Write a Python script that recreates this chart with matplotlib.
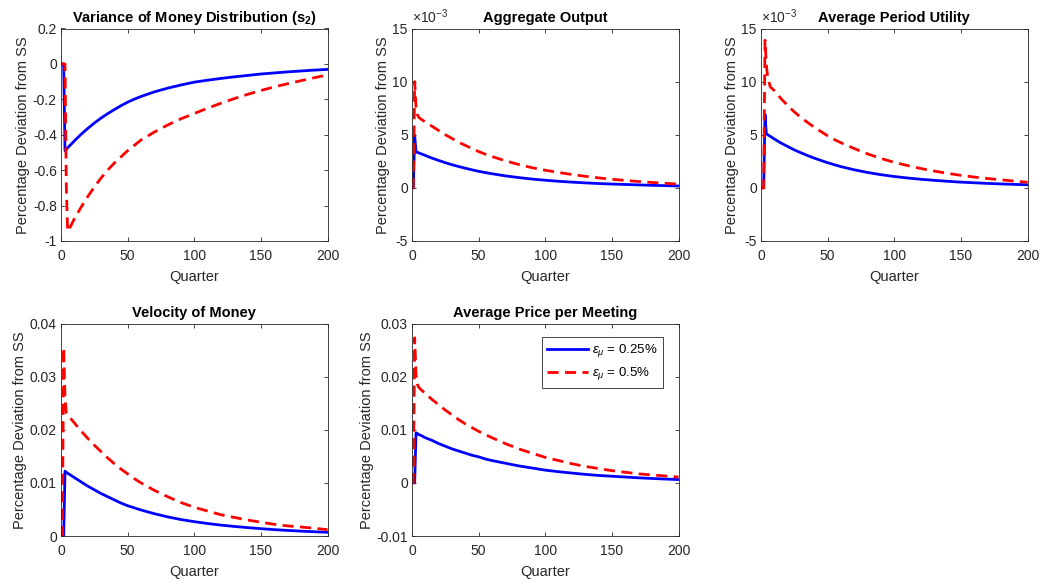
import matplotlib
matplotlib.use("Agg")
import matplotlib.pyplot as plt
from matplotlib.ticker import FuncFormatter

plt.rcParams['font.family'] = ['Liberation Sans', 'DejaVu Sans']
plt.rcParams['axes.unicode_minus'] = False
plt.rcParams['mathtext.fontset'] = 'custom'
plt.rcParams['mathtext.rm'] = 'Liberation Sans'
plt.rcParams['mathtext.it'] = 'Liberation Sans:italic'
plt.rcParams['mathtext.bf'] = 'Liberation Sans:bold'

quarters = [0, 1, 2, 3, 4, 5, 7, 10, 15, 20, 25, 30, 35, 40, 45, 50, 55, 60,
            70, 80, 90, 100, 110, 120, 130, 140, 150, 160, 170, 180, 190, 200]

# variance of money distribution
var_blue = [0, 0, 0, -0.49, -0.482, -0.474, -0.458, -0.435, -0.398, -0.365, -0.334, -0.306, -0.281, -0.258,
            -0.236, -0.216, -0.199, -0.184, -0.158, -0.137, -0.119, -0.103, -0.092, -0.082, -0.073, -0.065,
            -0.057, -0.051, -0.045, -0.04, -0.035, -0.031]
var_red = [0, 0, 0, 0, -0.7, -0.945, -0.92, -0.875, -0.81, -0.75, -0.695, -0.645, -0.6, -0.56, -0.525, -0.49,
           -0.46, -0.43, -0.385, -0.345, -0.31, -0.28, -0.25, -0.222, -0.196, -0.172, -0.15, -0.13, -0.112,
           -0.095, -0.078, -0.062]

# aggregate output
out_blue = [0, 0, 4.95e-3, 3.38e-3, 3.34e-3, 3.3e-3, 3.2e-3, 3.05e-3, 2.8e-3, 2.58e-3, 2.37e-3, 2.18e-3,
            2.01e-3, 1.85e-3, 1.7e-3, 1.56e-3, 1.44e-3, 1.33e-3, 1.13e-3, 0.97e-3, 0.83e-3, 0.72e-3, 0.62e-3,
            0.54e-3, 0.47e-3, 0.41e-3, 0.36e-3, 0.32e-3, 0.28e-3, 0.24e-3, 0.21e-3, 0.18e-3]
out_red = [0, 0, 10.0e-3, 7.6e-3, 6.9e-3, 6.65e-3, 6.45e-3, 6.2e-3, 5.8e-3, 5.4e-3, 5.0e-3, 4.65e-3, 4.3e-3,
           4.0e-3, 3.7e-3, 3.42e-3, 3.17e-3, 2.95e-3, 2.55e-3, 2.2e-3, 1.9e-3, 1.66e-3, 1.45e-3, 1.26e-3,
           1.09e-3, 0.94e-3, 0.81e-3, 0.7e-3, 0.6e-3, 0.51e-3, 0.43e-3, 0.36e-3]

# average period utility
util_blue = [0, 0, 0, 6.9e-3, 5.1e-3, 5.0e-3, 4.85e-3, 4.6e-3, 4.22e-3, 3.9e-3, 3.57e-3, 3.3e-3, 3.04e-3,
             2.8e-3, 2.58e-3, 2.37e-3, 2.18e-3, 2.0e-3, 1.7e-3, 1.45e-3, 1.24e-3, 1.07e-3, 0.93e-3, 0.81e-3,
             0.71e-3, 0.62e-3, 0.54e-3, 0.48e-3, 0.42e-3, 0.37e-3, 0.33e-3, 0.29e-3]
util_red = [0, 0, 0, 13.9e-3, 11.6e-3, 10.4e-3, 9.5e-3, 9.15e-3, 8.4e-3, 7.75e-3, 7.15e-3, 6.62e-3, 6.15e-3,
            5.7e-3, 5.3e-3, 4.9e-3, 4.55e-3, 4.25e-3, 3.7e-3, 3.2e-3, 2.77e-3, 2.4e-3, 2.1e-3, 1.82e-3,
            1.58e-3, 1.37e-3, 1.18e-3, 1.02e-3, 0.88e-3, 0.76e-3, 0.64e-3, 0.53e-3]

# velocity of money
vel_blue = [0, 0, 0, 0.0122, 0.0120, 0.0118, 0.0115, 0.0110, 0.0102, 0.0094, 0.0087, 0.0080, 0.0074, 0.0068,
            0.0062, 0.0057, 0.0053, 0.0049, 0.0042, 0.0036, 0.0031, 0.0027, 0.00235, 0.00205, 0.0018, 0.00158,
            0.00138, 0.0012, 0.00105, 0.00092, 0.0008, 0.0007]
vel_red = [0, 0, 0.0355, 0.026, 0.0231, 0.0227, 0.0222, 0.0213, 0.0198, 0.0184, 0.0171, 0.0159, 0.0147, 0.0136,
           0.0126, 0.0117, 0.0108, 0.0100, 0.0086, 0.0074, 0.0063, 0.0054, 0.0047, 0.0040, 0.0035, 0.0030,
           0.0026, 0.0022, 0.0019, 0.0017, 0.00145, 0.0012]

# average price per meeting
price_blue = [0, 0, 0, 0.0094, 0.0093, 0.0091, 0.0089, 0.0085, 0.0080, 0.0074, 0.0069, 0.0064, 0.0060, 0.0056,
              0.0052, 0.0049, 0.0045, 0.0042, 0.0037, 0.0032, 0.0028, 0.0024, 0.0021, 0.00185, 0.0016, 0.0014,
              0.00125, 0.0011, 0.00095, 0.00083, 0.00072, 0.00062]
price_red = [0, 0, 0.0273, 0.0205, 0.0186, 0.018, 0.0175, 0.0168, 0.0157, 0.0147, 0.0137, 0.0128, 0.0119,
             0.0111, 0.0104, 0.0097, 0.0091, 0.0085, 0.0074, 0.0064, 0.0056, 0.0048, 0.0042, 0.0036, 0.0031,
             0.0027, 0.0023, 0.0020, 0.0017, 0.0015, 0.0013, 0.0011]

titles = ['Variance of Money Distribution (s$_{\\mathbf{2}}$)', 'Aggregate Output', 'Average Period Utility',
          'Velocity of Money', 'Average Price per Meeting']
series = [(var_blue, var_red), (out_blue, out_red), (util_blue, util_red),
          (vel_blue, vel_red), (price_blue, price_red)]
ylims = [(-1, 0.2), (-5e-3, 15e-3), (-5e-3, 15e-3), (0, 0.04), (-0.01, 0.03)]
yticks = [[-1, -0.8, -0.6, -0.4, -0.2, 0, 0.2], [-5e-3, 0, 5e-3, 10e-3, 15e-3], [-5e-3, 0, 5e-3, 10e-3, 15e-3],
          [0, 0.01, 0.02, 0.03, 0.04], [-0.01, 0, 0.01, 0.02, 0.03]]
legend_labels = ['$\\epsilon_\\mu$ = 0.25%', '$\\epsilon_\\mu$ = 0.5%']

W, H = 1042, 583
lefts = [61, 412, 761, 61, 412]
bottoms = [241, 241, 241, 536, 536]
gray = (0.15, 0.15, 0.15)

fig = plt.figure(figsize=(10.42, 5.83), dpi=100)

for i in range(5):
    ax = fig.add_axes([lefts[i] / W, (H - bottoms[i]) / H, 266.5 / W, 212.5 / H])
    b, r = series[i]
    ax.plot(quarters, b, color='blue', lw=2, label=legend_labels[0])
    ax.plot(quarters, r, color='red', lw=2, ls='--', dashes=(4, 2.3), label=legend_labels[1])
    ax.set_xlim(0, 200)
    ax.set_ylim(*ylims[i])
    ax.set_xticks([0, 50, 100, 150, 200])
    ax.set_yticks(yticks[i])
    if i in (1, 2):
        # MATLAB style exponent above the axis
        ax.yaxis.set_major_formatter(FuncFormatter(lambda v, p: '%g' % round(v * 1e3, 6)))
        ax.text(0.0, 1.01, '$\\times10^{-3}$', transform=ax.transAxes, fontsize=10,
                color=gray, ha='left', va='bottom')
    else:
        ax.yaxis.set_major_formatter(FuncFormatter(lambda v, p: '%g' % v))
    ax.tick_params(direction='in', length=3, width=0.6, top=True, right=True,
                   labelsize=10, colors=gray)
    ax.tick_params(axis='x', pad=6)
    ax.tick_params(axis='y', pad=3)
    for s in ax.spines.values():
        s.set_color(gray)
        s.set_linewidth(0.6)
    ax.set_title(titles[i], fontsize=10.5, fontweight='bold', pad=5)
    ax.set_xlabel('Quarter', fontsize=10.5, color=gray, labelpad=5)
    ax.set_ylabel('Percentage Deviation from SS', fontsize=10.5, color=gray, labelpad=2)
    if i == 4:
        leg = ax.legend(loc='upper right', bbox_to_anchor=(0.942, 0.936), borderaxespad=0, fontsize=9.5,
                        fancybox=False, framealpha=1, edgecolor=gray, handlelength=3.1, handletextpad=0.3,
                        borderpad=0.4, labelspacing=0.45)
        leg.get_frame().set_linewidth(0.6)

fig.savefig('out.png', dpi=100)
